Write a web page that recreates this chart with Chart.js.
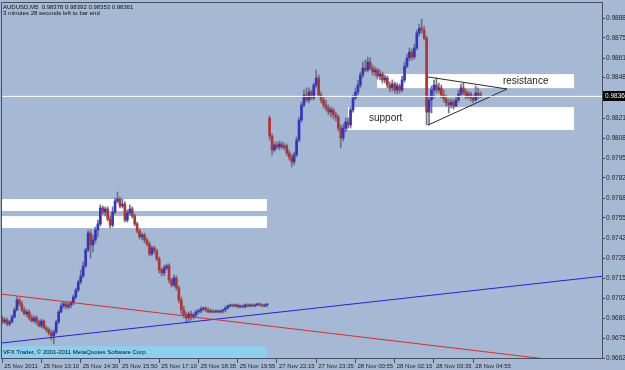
<!DOCTYPE html>
<html>
<head>
<meta charset="utf-8">
<script src="https://cdn.jsdelivr.net/npm/chart.js@4.4.1/dist/chart.umd.min.js"></script>
<style>
  html, body { margin: 0; padding: 0; background: #a6b9d4; }
  canvas { display: block; }
</style>
</head>
<body>
<canvas id="chart" width="625" height="370"></canvas>
<script>
// AUDUSD M5, 25 Nov 2011 12:00 -> 28 Nov 2011 05:00 (one entry per 5 min bar)
const opens = [
  .96892,.96865,.96878,.96852,.96865,.96898,.96945,.97011,.96985,.96945,
  .96918,.96931,.96892,.96872,.96892,.96865,.96839,.96872,.96826,.96812,
  .96792,.96773,.96799,.96865,.96931,.96971,.96985,.96965,.96978,.96991,
  .97031,.97077,.97130,.97170,.97237,.97343,.97455,.97376,.97409,.97475,
  .97515,.97621,.97594,.97614,.97548,.97508,.97594,.97667,.97681,.97634,
  .97647,.97541,.97588,.97614,.97568,.97515,.97469,.97429,.97442,.97409,
  .97382,.97316,.97356,.97336,.97283,.97210,.97190,.97223,.97237,.97144,
  .97110,.97157,.97091,.97011,.96945,.96912,.96892,.96918,.96898,.96912,
  .96931,.96938,.96951,.96958,.96945,.96931,.96938,.96931,.96938,.96931,
  .96938,.96945,.96958,.96971,.96978,.96971,.96978,.96965,.96971,.96965,
  .96978,.96971,.96978,.96971,.96978,.96985,.96978,.96971,.96978,
  .98218,.98098,.98006,.98039,.98025,.98045,.98025,.98032,.97986,.97959,
  .97926,.97972,.98072,.98204,.98304,.98370,.98337,.98390,.98350,.98436,
  .98483,.98370,.98337,.98304,.98284,.98257,.98271,.98238,.98224,.98151,
  .98085,.98151,.98191,.98171,.98271,.98350,.98390,.98436,.98503,.98549,
  .98536,.98589,.98549,.98523,.98536,.98496,.98509,.98470,.98483,.98436,
  .98417,.98443,.98403,.98430,.98403,.98470,.98562,.98616,.98655,.98622,
  .98682,.98781,.98814,.98801,.98748,.98257,.98337,.98403,.98436,.98403,
  .98417,.98370,.98344,.98317,.98304,.98324,.98297,.98337,.98377,.98417,
  .98390,.98357,.98377,.98350,.98337,.98383,.98378
];
const highs = [
  .96905,.96892,.96892,.96878,.96912,.96958,.97031,.97024,.97004,.96965,
  .96945,.96945,.96912,.96905,.96905,.96878,.96885,.96878,.96839,.96826,
  .96812,.96812,.96878,.96945,.96991,.96998,.96998,.96998,.97004,.97044,
  .97091,.97144,.97210,.97263,.97356,.97475,.97475,.97442,.97495,.97541,
  .97641,.97634,.97628,.97628,.97568,.97628,.97687,.97727,.97694,.97681,
  .97661,.97608,.97641,.97628,.97581,.97528,.97482,.97455,.97455,.97422,
  .97396,.97369,.97369,.97349,.97296,.97223,.97243,.97250,.97250,.97157,
  .97177,.97170,.97104,.97031,.96971,.96931,.96931,.96938,.96925,.96945,
  .96951,.96965,.96965,.96965,.96958,.96951,.96945,.96945,.96945,.96945,
  .96951,.96971,.96978,.96985,.96985,.96985,.96985,.96978,.96978,.96985,
  .96985,.96985,.96985,.96985,.96991,.96991,.96985,.96985,.96985,
  .98231,.98112,.98059,.98059,.98065,.98059,.98052,.98045,.98006,.97979,
  .97992,.98092,.98224,.98324,.98403,.98417,.98417,.98403,.98450,.98536,
  .98503,.98390,.98357,.98337,.98304,.98291,.98284,.98257,.98238,.98171,
  .98178,.98218,.98218,.98291,.98370,.98417,.98470,.98523,.98589,.98602,
  .98622,.98616,.98569,.98556,.98549,.98536,.98523,.98503,.98496,.98456,
  .98470,.98456,.98450,.98443,.98496,.98589,.98642,.98682,.98675,.98708,
  .98801,.98841,.98874,.98828,.98761,.98364,.98430,.98470,.98483,.98450,
  .98436,.98403,.98370,.98344,.98344,.98344,.98357,.98403,.98443,.98450,
  .98410,.98397,.98390,.98370,.98430,.98417,.98392
];
const lows = [
  .96852,.96852,.96839,.96839,.96859,.96892,.96938,.96971,.96931,.96912,
  .96898,.96878,.96865,.96859,.96845,.96832,.96826,.96819,.96799,.96779,
  .96746,.96720,.96786,.96852,.96925,.96958,.96951,.96951,.96958,.96978,
  .97018,.97064,.97117,.97157,.97223,.97329,.97290,.97329,.97389,.97429,
  .97502,.97581,.97568,.97535,.97488,.97495,.97581,.97654,.97621,.97621,
  .97528,.97528,.97574,.97555,.97502,.97455,.97415,.97409,.97389,.97369,
  .97303,.97303,.97316,.97270,.97190,.97170,.97170,.97210,.97124,.97097,
  .97097,.97077,.96991,.96918,.96892,.96859,.96865,.96878,.96885,.96898,
  .96918,.96925,.96938,.96931,.96925,.96925,.96925,.96925,.96925,.96925,
  .96925,.96931,.96951,.96965,.96965,.96965,.96958,.96958,.96958,.96958,
  .96965,.96965,.96965,.96965,.96971,.96971,.96965,.96965,.96965,
  .98072,.97972,.97992,.98012,.98006,.98012,.98006,.97966,.97939,.97893,
  .97906,.97959,.98059,.98191,.98291,.98324,.98317,.98337,.98337,.98417,
  .98357,.98317,.98284,.98264,.98238,.98224,.98211,.98198,.98132,.98019,
  .98065,.98125,.98151,.98151,.98257,.98337,.98370,.98417,.98483,.98523,
  .98523,.98536,.98503,.98496,.98476,.98470,.98450,.98450,.98417,.98390,
  .98397,.98383,.98377,.98383,.98390,.98456,.98549,.98596,.98602,.98609,
  .98669,.98761,.98781,.98735,.98171,.98171,.98251,.98350,.98383,.98383,
  .98350,.98324,.98297,.98251,.98284,.98277,.98291,.98324,.98364,.98370,
  .98344,.98344,.98330,.98317,.98330,.98344,.98353
];
const closes = [
  .96865,.96878,.96852,.96865,.96898,.96945,.97011,.96985,.96945,.96918,
  .96931,.96892,.96872,.96892,.96865,.96839,.96872,.96826,.96812,.96792,
  .96773,.96799,.96865,.96931,.96971,.96985,.96965,.96978,.96991,.97031,
  .97077,.97130,.97170,.97237,.97343,.97455,.97376,.97409,.97475,.97515,
  .97621,.97594,.97614,.97548,.97508,.97594,.97667,.97681,.97634,.97647,
  .97541,.97588,.97614,.97568,.97515,.97469,.97429,.97442,.97409,.97382,
  .97316,.97356,.97336,.97283,.97210,.97190,.97223,.97237,.97144,.97110,
  .97157,.97091,.97011,.96945,.96912,.96892,.96918,.96898,.96912,.96931,
  .96938,.96951,.96958,.96945,.96931,.96938,.96931,.96938,.96931,.96938,
  .96945,.96958,.96971,.96978,.96971,.96978,.96965,.96971,.96965,.96978,
  .96971,.96978,.96971,.96978,.96985,.96978,.96971,.96978,.96985,
  .98098,.98006,.98039,.98025,.98045,.98025,.98032,.97986,.97959,.97926,
  .97972,.98072,.98204,.98304,.98370,.98337,.98390,.98350,.98436,.98483,
  .98370,.98337,.98304,.98284,.98257,.98271,.98238,.98224,.98151,.98085,
  .98151,.98191,.98171,.98271,.98350,.98390,.98436,.98503,.98549,.98536,
  .98589,.98549,.98523,.98536,.98496,.98509,.98470,.98483,.98436,.98417,
  .98443,.98403,.98430,.98403,.98470,.98562,.98616,.98655,.98622,.98682,
  .98781,.98814,.98801,.98748,.98257,.98337,.98403,.98436,.98403,.98417,
  .98370,.98344,.98317,.98304,.98324,.98297,.98337,.98377,.98417,.98390,
  .98357,.98377,.98350,.98337,.98383,.98364,.98361
];

// time axis labels and the bar they sit on
const xTickBars = [0, 16, 32, 48, 64, 80, 96, 112, 128, 144, 160, 176, 192];
const xTickLabels = ['25 Nov 2011', '25 Nov 13:10', '25 Nov 14:30', '25 Nov 15:50', '25 Nov 17:10',
  '25 Nov 18:35', '25 Nov 19:55', '27 Nov 22:15', '27 Nov 23:35', '28 Nov 00:55',
  '28 Nov 02:15', '28 Nov 03:35', '28 Nov 04:55'];
const yTicks = [0.98880, 0.98750, 0.98615, 0.98485, 0.98215, 0.98085, 0.97950, 0.97820, 0.97685,
  0.97555, 0.97420, 0.97285, 0.97155, 0.97020, 0.96890, 0.96755, 0.96625];

// trend lines [bar, price]
const redLine = [[-0.5, 0.97050], [244.5, 0.96575]];
const blueLine = [[-0.5, 0.96725], [244.5, 0.97168]];
const triangle = [[173.6, 0.98490], [205.8, 0.98410], [173.6, 0.98171]];
const bid = 0.98361;

// rectangle objects: start bar, end bar, upper price, lower price
const zoneStart = [-1, -1, 152.8, 140.95];
const zoneEnd = [107.9, 107.9, 233.1, 233.1];
const zoneHigh = [0.97680, 0.97567, 0.98509, 0.98290];
const zoneLow = [0.97601, 0.97488, 0.98416, 0.98138];

// text objects
const noteText = ['resistance', 'support'];
const noteBar = [204.1, 149.5];
const notePrice = [0.98463, 0.98217];

const BG = '#a6b9d4';
const FRAME = '#46505c';
const upColor = '#3434c4';
const downColor = '#b63232';

const wickData = opens.map((o, i) => ({ x: i, y: [lows[i], highs[i]] }));
const bodyData = opens.map((o, i) => ({ x: i, y: [o, closes[i]] }));
const bodyColors = opens.map((o, i) => closes[i] >= o ? upColor : downColor);
const pts = arr => arr.map(p => ({ x: p[0], y: p[1] }));

const mt4Decor = {
  id: 'mt4Decor',
  beforeDraw(chart) {
    const c = chart.ctx;
    c.save();
    c.fillStyle = BG;
    c.fillRect(0, 0, chart.width, chart.height);
    c.restore();
  },
  beforeDatasetsDraw(chart) {
    const c = chart.ctx, a = chart.chartArea;
    const xs = chart.scales.x, ys = chart.scales.y;
    c.save();
    c.beginPath();
    c.rect(a.left, a.top, a.right - a.left, a.bottom - a.top);
    c.clip();
    c.fillStyle = '#ffffff';
    zoneStart.forEach((s, i) => {
      const x0 = xs.getPixelForValue(s), x1 = xs.getPixelForValue(zoneEnd[i]);
      const y0 = ys.getPixelForValue(zoneHigh[i]), y1 = ys.getPixelForValue(zoneLow[i]);
      c.fillRect(x0, y0, x1 - x0, y1 - y0);
    });
    // copyright strip
    const cx1 = xs.getPixelForValue(107.9);
    const cy0 = ys.getPixelForValue(0.96705);
    c.fillStyle = '#8ccfee';
    c.fillRect(a.left, cy0, cx1 - a.left, a.bottom - cy0);
    c.restore();
  },
  afterDatasetsDraw(chart) {
    const c = chart.ctx, a = chart.chartArea;
    const xs = chart.scales.x, ys = chart.scales.y;
    c.save();
    c.fillStyle = '#1e1e1e';
    c.textBaseline = 'middle';
    c.textAlign = 'left';
    c.font = '10px "Liberation Sans", Arial, sans-serif';
    noteText.forEach((t, i) => {
      c.fillText(t, xs.getPixelForValue(noteBar[i]), ys.getPixelForValue(notePrice[i]));
    });
    c.font = '6px "Liberation Sans", Arial, sans-serif';
    c.fillStyle = '#101010';
    c.fillText('VFX Trader, \u00a9 2001-2011 MetaQuotes Software Corp.', 3, 352);
    const n = opens.length - 1;
    c.fillText('AUDUSD,M5  ' + [opens[n], highs[n], lows[n], closes[n]].map(v => v.toFixed(5)).join(' '), 3, 7);
    c.fillText('3 minutes 28 seconds left to bar end', 3, 13);
    // frame
    c.strokeStyle = FRAME;
    c.lineWidth = 1;
    c.beginPath();
    c.moveTo(a.left + 0.5, a.bottom);
    c.lineTo(a.left + 0.5, a.top + 0.5);
    c.lineTo(a.right, a.top + 0.5);
    c.stroke();
    // current price box
    const by = Math.round(ys.getPixelForValue(bid));
    c.fillStyle = '#000000';
    c.fillRect(a.right + 1, by - 5, chart.width - a.right - 1, 10);
    c.fillStyle = '#ffffff';
    c.font = '6.5px "Liberation Sans", Arial, sans-serif';
    c.fillText(bid.toFixed(5), a.right + 3, by);
    c.restore();
  }
};

new Chart(document.getElementById('chart'), {
  type: 'bar',
  data: {
    datasets: [
      { type: 'line', data: pts([[-0.5, bid], [244.5, bid]]), borderColor: '#ffffff', borderWidth: 1,
        pointRadius: 0, order: 0 },
      { type: 'line', data: pts(redLine), borderColor: '#e02a2a', borderWidth: 1, pointRadius: 0, order: 1 },
      { type: 'line', data: pts(blueLine), borderColor: '#2222e6', borderWidth: 1, pointRadius: 0, order: 1 },
      { type: 'line', data: pts(triangle), borderColor: '#2a2a2a', borderWidth: 1, pointRadius: 0, order: 1 },
      { type: 'bar', data: bodyData, backgroundColor: bodyColors, barThickness: 2, minBarLength: 1,
        grouped: false, borderWidth: 0, order: 2 },
      { type: 'bar', data: wickData, backgroundColor: '#6c7380', barThickness: 1,
        grouped: false, borderWidth: 0, order: 3 }
    ]
  },
  options: {
    responsive: false,
    animation: false,
    devicePixelRatio: 1,
    layout: { padding: { top: 2, left: 1, right: 0, bottom: 0 } },
    plugins: { legend: { display: false }, tooltip: { enabled: false } },
    scales: {
      x: {
        type: 'linear', min: -0.5, max: 244.5, offset: false, bounds: 'data',
        afterBuildTicks: s => { s.ticks = xTickBars.map(v => ({ value: v })); },
        afterFit: s => { s.height = 12; s.paddingLeft = 0; s.paddingRight = 0; },
        grid: { drawOnChartArea: false, offset: false, tickLength: 5, color: FRAME },
        border: { display: true, color: FRAME },
        ticks: {
          autoSkip: false, maxRotation: 0, align: 'start', labelOffset: 2, padding: 0,
          color: '#1e1e1e', font: { size: 6, family: '"Liberation Sans", Arial, sans-serif' },
          callback: (v, i) => xTickLabels[i]
        }
      },
      y: {
        type: 'linear', position: 'right', min: 0.96626, max: 0.98987,
        afterBuildTicks: s => { s.ticks = yTicks.map(v => ({ value: v })); },
        afterFit: s => { s.width = 23; s.paddingTop = 0; s.paddingBottom = 0; },
        grid: { drawOnChartArea: false, tickLength: 3, color: FRAME },
        border: { display: true, color: FRAME },
        ticks: {
          autoSkip: false, padding: 1, color: '#1e1e1e',
          font: { size: 6.5, family: '"Liberation Sans", Arial, sans-serif' },
          callback: v => v.toFixed(5)
        }
      }
    }
  },
  plugins: [mt4Decor]
});
</script>
</body>
</html>
